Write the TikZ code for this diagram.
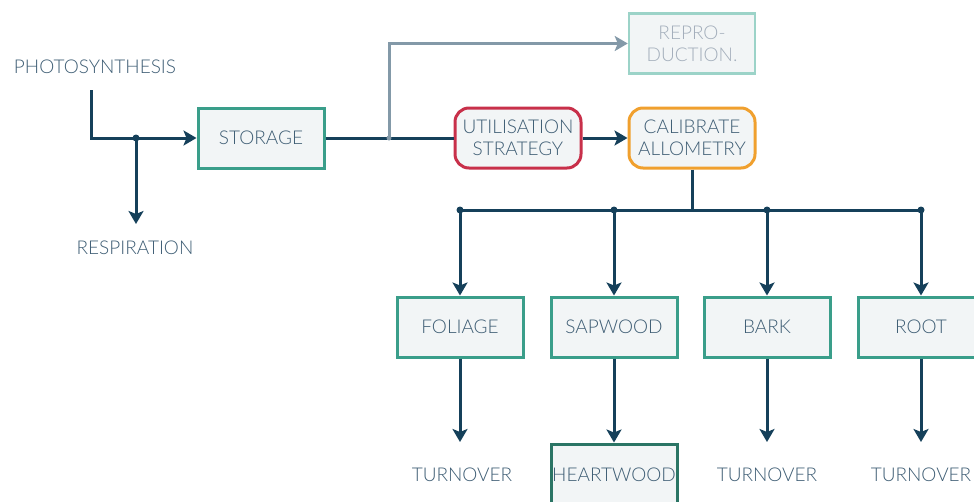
\documentclass[tikz,border=0pt]{standalone}
\usepackage{fontspec}
\setmainfont{Lato}[UprightFont={* Light}]
\usetikzlibrary{arrows.meta}
\definecolor{navy}{HTML}{15405A}
\definecolor{txt}{HTML}{3E5D74}
\definecolor{boxfill}{HTML}{F2F5F6}
\definecolor{grn}{HTML}{3A9E8A}
\definecolor{dgrn}{HTML}{2B7565}
\definecolor{lgrn}{HTML}{9CD3C8}
\definecolor{gry}{HTML}{8399A8}
\definecolor{gtxt}{HTML}{A3AEBB}
\definecolor{redb}{HTML}{C8304A}
\definecolor{orb}{HTML}{F0A02E}
\begin{document}
\begin{tikzpicture}[x=1pt,y=-1pt,
  every node/.style={font=\fontsize{19}{22}\selectfont, text=txt},
  sqbox/.style={draw=grn, line width=3pt, fill=boxfill, minimum width=126pt, minimum height=60pt, inner sep=0pt, align=center},
  rbox/.style={sqbox, rounded corners=14pt},
  lbl/.style={inner sep=0pt},
  conn/.style={draw=navy, line width=3pt},
  arr/.style={conn, -{Stealth[length=13pt,width=15pt,inset=3pt]}},
  dot/.style={circle, fill=navy, inner sep=0pt, minimum size=7pt}
]
\useasboundingbox (0,0) rectangle (974,501);
\clip (0,0) rectangle (974,501);
% nodes
\node[lbl] (photo) at (95,67) {PHOTOSYNTHESIS};
\node[lbl] (resp) at (135,248) {RESPIRATION};
\node[sqbox] (stor) at (261,138) {STORAGE};
\node[sqbox, draw=lgrn, text=gtxt, line width=2.5pt] (repro) at (692,43.5) {REPRO-\\DUCTION.};
\node[rbox, draw=redb] (util) at (518,138) {UTILISATION\\STRATEGY};
\node[rbox, draw=orb] (calib) at (692,138) {CALIBRATE\\ALLOMETRY};
\node[sqbox] (fol) at (460,327) {FOLIAGE};
\node[sqbox] (sap) at (614,327) {SAPWOOD};
\node[sqbox] (bark) at (767,327) {BARK};
\node[sqbox] (root) at (921,327) {ROOT};
\node[sqbox, draw=dgrn, minimum height=70pt] (heart) at (614,479) {};
\node[lbl] (hearttxt) at (614,475) {HEARTWOOD};
\node[lbl] (t1) at (462,475) {TURNOVER};
\node[lbl] (t3) at (767,475) {TURNOVER};
\node[lbl] (t4) at (921,475) {TURNOVER};
% coordinates
\coordinate (p0) at (91,90);
\coordinate (j1) at (136,138);
\coordinate (j2) at (389,138);
\coordinate (h0) at (692,210);
\coordinate (d1) at (460,210);
\coordinate (d2) at (614,210);
\coordinate (d3) at (767,210);
\coordinate (d4) at (921,210);
\coordinate (r1) at (136,224);
\coordinate (e1) at (460,442);
\coordinate (e3) at (767,442);
\coordinate (e4) at (921,442);
% connectors
\draw[arr] (p0) |- (stor.west);
\draw[arr] (j1) -- (r1);
\draw[conn] (stor.east) -- (util.west);
\draw[draw=gry, line width=3pt, -{Stealth[length=13pt,width=15pt,inset=3pt]}] (j2) |- (repro.west);
\draw[arr] (util.east) -- (calib.west);
\draw[conn] (calib.south) -- (h0);
\draw[conn] (d1) -- (d4);
\foreach \d/\b in {d1/fol,d2/sap,d3/bark,d4/root}{
  \draw[arr] (\d) -- (\b.north);
  \node[dot] at (\d) {};
}
\node[dot] at (j1) {};
\node[circle, fill=gry, inner sep=0pt, minimum size=5pt] at (j2) {};
\draw[arr] (fol.south) -- (e1);
\draw[arr] (sap.south) -- (heart.north);
\draw[arr] (bark.south) -- (e3);
\draw[arr] (root.south) -- (e4);
\end{tikzpicture}
\end{document}
